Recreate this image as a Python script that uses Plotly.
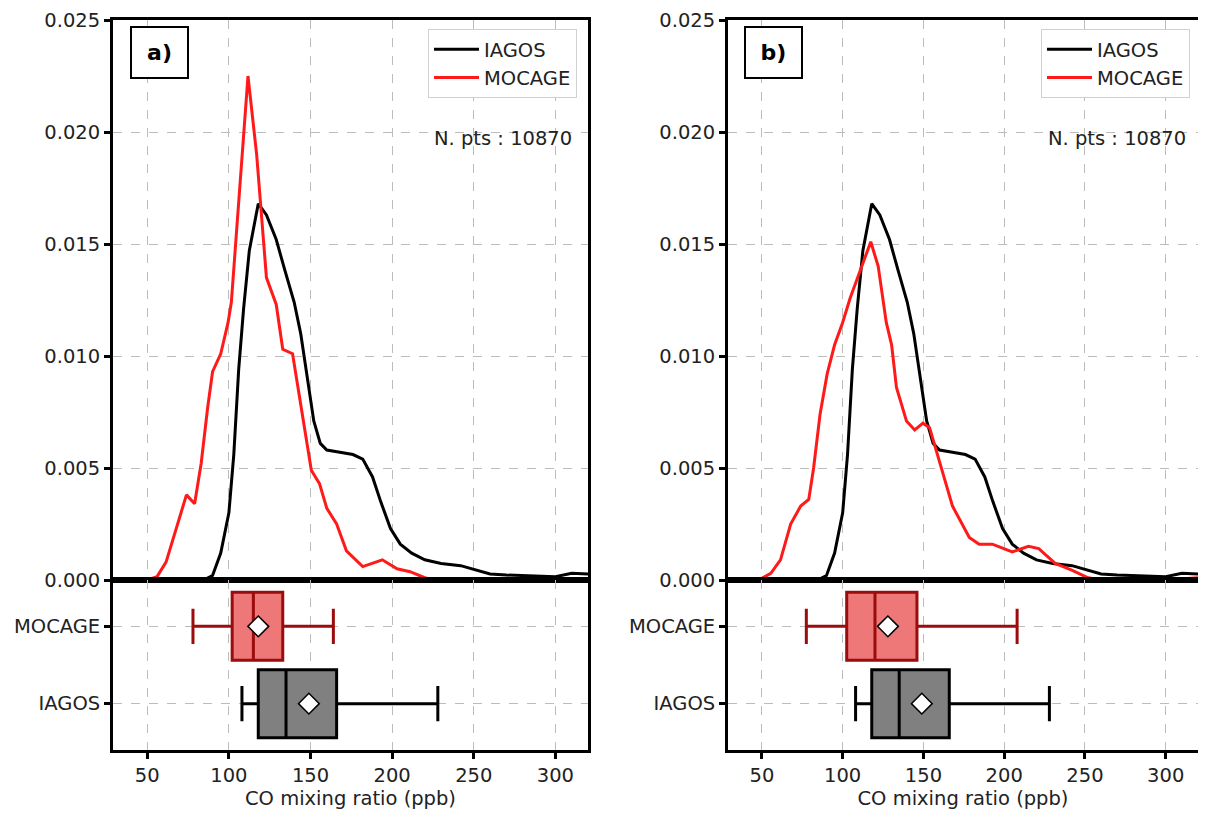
import plotly.graph_objects as go

# ---------------- data ----------------
iagos_x = [80, 85, 90, 95, 100, 103, 106, 109, 112.5, 118, 123, 129, 134, 140, 144,
           148, 152, 156, 160, 168, 176, 182, 188, 193, 199, 205, 212, 220, 230, 242,
           252, 260, 270, 280, 290, 300, 310, 320]
iagos_y = [0, 0.00002, 0.0002, 0.0012, 0.0030, 0.0056, 0.0094, 0.0121, 0.0147, 0.0168,
           0.0163, 0.0152, 0.0139, 0.0124, 0.0110, 0.0090, 0.0071, 0.0061, 0.0058, 0.0057,
           0.0056, 0.0054, 0.0046, 0.0035, 0.0023, 0.0016, 0.0012, 0.0009, 0.00074, 0.00064,
           0.00044, 0.00027, 0.00022, 0.0002, 0.00017, 0.00015, 0.0003, 0.00027]

mocage_a_x = [50, 56, 61.5, 67.5, 74, 79, 83, 87, 90, 95, 99.5, 101.5, 111.7, 117, 123,
              129, 133, 139, 145.5, 150.5, 155.5, 160, 166, 172, 182, 194, 203, 211, 220, 225]
mocage_a_y = [0, 0.00015, 0.0008, 0.0022, 0.0038, 0.0034, 0.0052, 0.0077, 0.0093, 0.0101,
              0.0115, 0.0124, 0.0225, 0.0190, 0.0135, 0.0123, 0.0103, 0.0101, 0.0071, 0.0049,
              0.0043, 0.0032, 0.0025, 0.0013, 0.0006, 0.0009, 0.0005, 0.00037, 0.0001, 0]

mocage_b_x = [48, 55.5, 61.5, 67.8, 74, 79, 82, 86, 90.4, 95, 100, 104.7, 117.4, 122, 127,
              130.3, 133.3, 139.5, 144.6, 149.7, 153.8, 160, 168, 178.4, 184.5, 192.7, 205,
              215, 221.4, 231.6, 241.8, 252, 260, 280, 300, 320]
mocage_b_y = [0, 0.0003, 0.0009, 0.0025, 0.0033, 0.0036, 0.0050, 0.0074, 0.0092, 0.0105,
              0.0115, 0.0126, 0.0151, 0.0140, 0.0115, 0.0105, 0.0086, 0.0071, 0.0067, 0.0070,
              0.0068, 0.0053, 0.0033, 0.0019, 0.0016, 0.0016, 0.00125, 0.0015, 0.0014, 0.00074,
              0.00044, 0.0001, 0, 0, 0, 0.0001]

# box statistics: [low whisker, q1, median, q3, high whisker, mean]
iagos_box = [108, 118, 135, 166, 228, 149]
mocage_a_box = [78, 102, 115, 133, 164, 118]
mocage_b_box = [77.5, 102.5, 120, 146, 208, 128]

box_labels = ["IAGOS", "MOCAGE"]
y_ticks = [0, 0.005, 0.010, 0.015, 0.020, 0.025]
x_ticks = [50, 100, 150, 200, 250, 300]
npts_text = "N. pts : 10870"
panel_labels = ["a)", "b)"]

# ---------------- style ----------------
FONT = "DejaVu Sans"
FS = 19.5
RED = "#ff1a1a"
BOX_RED_FILL = "#ee7777"
BOX_RED_EDGE = "#9b0d0d"
GRAY_FILL = "#808080"

fig = go.Figure()

panels = [
    dict(mx=mocage_a_x, my=mocage_a_y, mbox=mocage_a_box, xa="x", ya="y", xb="x2", yb="y2",
         legend="legend"),
    dict(mx=mocage_b_x, my=mocage_b_y, mbox=mocage_b_box, xa="x3", ya="y3", xb="x4", yb="y4",
         legend="legend2"),
]

for p in panels:
    fig.add_trace(go.Scatter(x=iagos_x, y=iagos_y, mode="lines", name="IAGOS",
                             line=dict(color="black", width=3), xaxis=p["xa"], yaxis=p["ya"],
                             legend=p["legend"]))
    fig.add_trace(go.Scatter(x=p["mx"], y=p["my"], mode="lines", name="MOCAGE",
                             line=dict(color=RED, width=3), xaxis=p["xa"], yaxis=p["ya"],
                             legend=p["legend"]))
    for pos, stats, fill, edge in [(0, iagos_box, GRAY_FILL, "black"),
                                   (1, p["mbox"], BOX_RED_FILL, BOX_RED_EDGE)]:
        fig.add_trace(go.Box(y=[pos], lowerfence=[stats[0]], q1=[stats[1]], median=[stats[2]],
                             q3=[stats[3]], upperfence=[stats[4]], orientation="h",
                             width=0.88, whiskerwidth=0.52, fillcolor=fill,
                             line=dict(color=edge, width=3), showlegend=False,
                             hoverinfo="skip", xaxis=p["xb"], yaxis=p["yb"]))
        fig.add_trace(go.Scatter(x=[stats[5]], y=[pos], mode="markers", showlegend=False,
                                 marker=dict(symbol="diamond", size=16, color="white",
                                             line=dict(color="black", width=1.5)),
                                 xaxis=p["xb"], yaxis=p["yb"]))

W, H = 1206, 814
OFF = 8  # page body margin offset


def px_x(v):
    return (v - OFF) / W


def px_y(v):
    return 1 - (v - OFF) / H


dom_a = [px_x(113), px_x(588)]
dom_b = [px_x(728), px_x(1198)]
top_dom = [px_y(580), px_y(20)]
bot_dom = [px_y(750), px_y(580)]

axis_common = dict(showline=True, mirror=True, linecolor="black", linewidth=2.8,
                   showgrid=True, gridcolor="#bcbcbc", griddash="dash", gridwidth=1,
                   zeroline=False, tickfont=dict(family=FONT, size=FS, color="#222"),
                   ticks="outside", tickcolor="black", ticklen=6, tickwidth=2.5,
                   automargin=False, ticklabeloverflow="allow")

xrange = [29, 320]


def top_x(dom, anchor):
    return dict(axis_common, domain=dom, range=xrange, anchor=anchor, tickvals=x_ticks,
                showticklabels=False, ticks="")


def bot_x(dom, anchor):
    return dict(axis_common, domain=dom, range=xrange, anchor=anchor, tickvals=x_ticks,
                title=dict(text="CO mixing ratio (ppb)", font=dict(family=FONT, size=FS, color="#222"),
                           standoff=4))


def top_y(anchor):
    return dict(axis_common, domain=top_dom, range=[0, 0.025], anchor=anchor, tickvals=y_ticks,
                tickformat=".3f")


def bot_y(anchor):
    return dict(axis_common, domain=bot_dom, range=[-0.6, 1.6], anchor=anchor, tickvals=[0, 1],
                ticktext=box_labels)


legend_common = dict(font=dict(family=FONT, size=FS, color="#222"), bgcolor="white",
                     bordercolor="#d0d0d0", borderwidth=1, xanchor="right", yanchor="top",
                     xref="paper", yref="paper", itemwidth=45, tracegroupgap=0)

fig.update_layout(
    width=W, height=H, margin=dict(l=0, r=0, t=0, b=0, autoexpand=False),
    paper_bgcolor="white", plot_bgcolor="white",
    font=dict(family=FONT, size=FS, color="#222"),
    xaxis=top_x(dom_a, "y"), yaxis=top_y("x"),
    xaxis2=bot_x(dom_a, "y2"), yaxis2=bot_y("x2"),
    xaxis3=top_x(dom_b, "y3"), yaxis3=top_y("x3"),
    xaxis4=bot_x(dom_b, "y4"), yaxis4=bot_y("x4"),
    legend=dict(legend_common, x=px_x(577), y=px_y(29)),
    legend2=dict(legend_common, x=px_x(1190), y=px_y(29)),
    showlegend=True,
)

for lab, cx, nx in [(panel_labels[0], 159.5, 574), (panel_labels[1], 773.5, 1188)]:
    fig.add_annotation(text=f"<b>{lab}</b>", x=px_x(cx), y=px_y(52), xref="paper", yref="paper",
                       showarrow=False, width=53, height=47, borderwidth=2, bordercolor="black",
                       borderpad=1, bgcolor="white", font=dict(family=FONT, size=22, color="black"),
                       xanchor="center", yanchor="middle")
    fig.add_annotation(text=npts_text, x=px_x(nx), y=px_y(139), xref="paper", yref="paper",
                       showarrow=False, xanchor="right", yanchor="middle",
                       font=dict(family=FONT, size=FS, color="#222"))

fig.write_html("out.html")
